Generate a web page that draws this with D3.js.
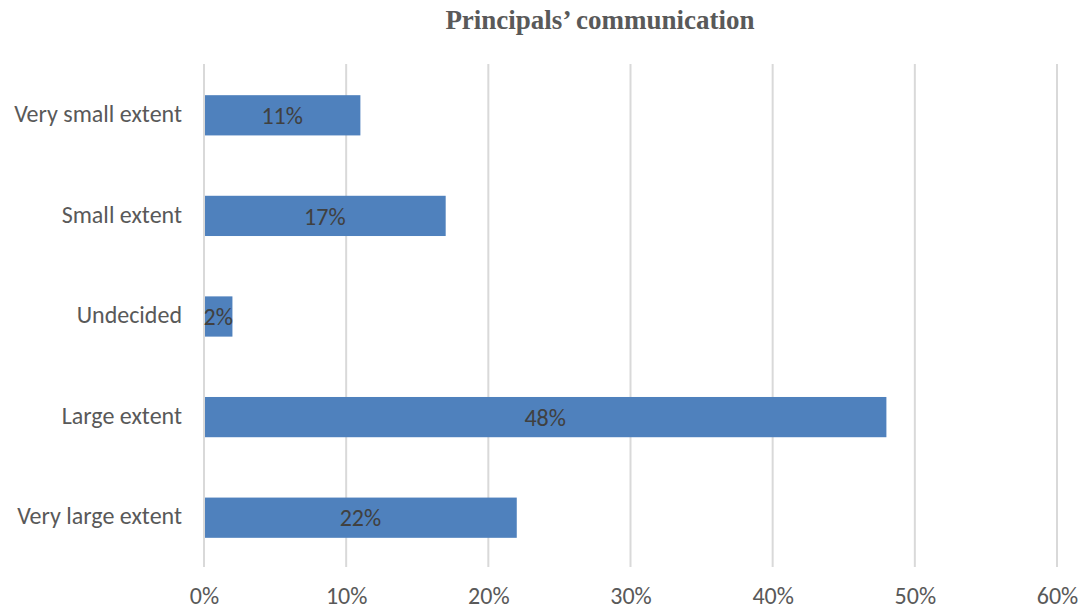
<!DOCTYPE html>
<html>
<head>
<meta charset="utf-8">
<script src="https://cdn.jsdelivr.net/npm/d3@7"></script>
<style>
  html, body { margin: 0; padding: 0; background: #fff; }
  svg { display: block; }
</style>
</head>
<body>
<svg id="chart" width="1085" height="612"></svg>
<script>
// Survey responses on principals' communication (share of respondents)
const categories = ["Very small extent", "Small extent", "Undecided", "Large extent", "Very large extent"];
const shares = [0.11, 0.17, 0.02, 0.48, 0.22];
const tickValues = [0, 0.1, 0.2, 0.3, 0.4, 0.5, 0.6];
const titleText = "Principals\u2019 communication";

const svg = d3.select("#chart");
const margin = { left: 204, right: 28, top: 64, bottom: 45 };
const W = 1085, H = 612;

const x = d3.scaleLinear().domain([0, 0.6]).range([margin.left, W - margin.right]);
const y = d3.scaleBand().domain(categories).range([margin.top, H - margin.bottom]).paddingInner(0.6).paddingOuter(0.3);

const sansFont = "Carlito, 'Liberation Sans', Arial, sans-serif";
const fontSize = 24;

// vertical gridlines
svg.append("g")
  .selectAll("line")
  .data(tickValues)
  .join("line")
  .attr("x1", d => x(d)).attr("x2", d => x(d))
  .attr("y1", margin.top).attr("y2", H - margin.bottom)
  .attr("stroke", "#d9d9d9")
  .attr("stroke-width", 2);

// bars
svg.append("g")
  .selectAll("rect")
  .data(categories)
  .join("rect")
  .attr("x", x(0) + 1)
  .attr("y", d => y(d) + 1)
  .attr("width", (d, i) => x(shares[i]) - x(0) - 1)
  .attr("height", y.bandwidth())
  .attr("fill", "#4f81bd");

// value labels inside bars
svg.append("g")
  .selectAll("text")
  .data(categories)
  .join("text")
  .attr("x", (d, i) => (x(0) + x(shares[i])) / 2)
  .attr("y", d => y(d) + 1 + y.bandwidth() / 2)
  .attr("dy", "0.36em")
  .attr("text-anchor", "middle")
  .attr("font-family", sansFont)
  .attr("font-size", fontSize)
  .attr("fill", "#404040")
  .text((d, i) => d3.format(".0%")(shares[i]));

// category axis
const yAxis = svg.append("g")
  .attr("transform", `translate(${margin.left},0)`)
  .call(d3.axisLeft(y).tickSize(0).tickPadding(22));
yAxis.select(".domain").remove();
yAxis.selectAll("text")
  .attr("font-family", sansFont)
  .attr("font-size", fontSize)
  .attr("fill", "#595959");

// value axis
const xAxis = svg.append("g")
  .attr("transform", `translate(0,${H - margin.bottom})`)
  .call(d3.axisBottom(x).tickValues(tickValues).tickFormat(d3.format(".0%")).tickSize(0).tickPadding(20));
xAxis.select(".domain").remove();
xAxis.selectAll("text")
  .attr("font-family", sansFont)
  .attr("font-size", fontSize)
  .attr("fill", "#595959");

// title
svg.append("text")
  .attr("x", 600)
  .attr("y", 29)
  .attr("text-anchor", "middle")
  .attr("font-family", "'Liberation Serif', 'Times New Roman', serif")
  .attr("font-weight", "bold")
  .attr("font-size", 27)
  .attr("fill", "#595959")
  .text(titleText);
</script>
</body>
</html>
